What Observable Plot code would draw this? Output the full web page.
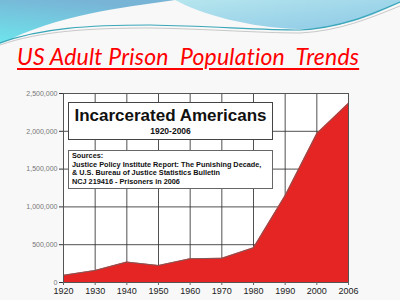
<!DOCTYPE html>
<html>
<head>
<meta charset="utf-8">
<script src="https://cdn.jsdelivr.net/npm/d3@7"></script>
<script src="https://cdn.jsdelivr.net/npm/@observablehq/plot@0.6"></script>
<style>
  html, body { margin:0; padding:0; }
  body { width:400px; height:300px; background:#f8f8f8; position:relative; overflow:hidden; font-family:"Liberation Sans", Arial, sans-serif; }
  #wave { position:absolute; left:0; top:0; }
  #title { position:absolute; left:17px; top:42px; font-family:Lato, "Open Sans", sans-serif; font-style:italic; font-size:23px; color:#ff0000; white-space:pre; text-decoration:underline; text-decoration-thickness:2px; text-underline-offset:3px; letter-spacing:0.2px; }
  #chart { position:absolute; left:0; top:80px; }
  .box { position:absolute; background:#fff; border:1.4px solid #444; box-sizing:border-box; color:#111; font-weight:bold; }
  #box1 { left:68px; top:102px; width:205px; height:38px; text-align:center; }
  #box1 .t1 { font-size:17px; line-height:17px; margin-top:4px; }
  #box1 .t2 { font-size:8.5px; line-height:10px; margin-top:2px; }
  #box2 { left:68px; top:150px; width:205px; height:39px; font-size:7.3px; line-height:8.6px; padding:1px 0 0 3px; border-color:#666; border-width:1px; }
</style>
</head>
<body>
<svg id="wave" width="400" height="50">
  <defs>
    <linearGradient id="g1" x1="0" y1="1" x2="0.4" y2="0">
      <stop offset="0" stop-color="#6ee6ec"/>
      <stop offset="1" stop-color="#78b4d6"/>
    </linearGradient>
    <linearGradient id="g2" x1="0" y1="0" x2="1" y2="1">
      <stop offset="0" stop-color="#b6e6ee"/>
      <stop offset="1" stop-color="#8cc8e6"/>
    </linearGradient>
  </defs>
  <path d="M0,0 L175,0 C120,8 60,14 0,44 Z" fill="url(#g1)"/>
  <path d="M175,0 L400,0 L400,2 C370,18 340,28 300,29 C250,28 200,14 175,0 Z" fill="url(#g2)"/>
  <path d="M0,43 C40,28 90,25 150,25 C210,26 260,30 300,30 C340,28 370,15 400,2" fill="none" stroke="#3aa6b8" stroke-width="1.2"/>
  <path d="M0,45 C40,31 90,28 150,28 C210,29 260,33 300,33 C340,31 370,18 400,6" fill="none" stroke="#bbbbbb" stroke-width="0.8"/>
</svg>
<div id="title">US Adult Prison  Population  Trends</div>
<div id="chart"></div>
<div class="box" id="box1"><div class="t1">Incarcerated Americans</div><div class="t2">1920-2006</div></div>
<div class="box" id="box2">Sources:<br>Justice Policy Institute Report: The Punishing Decade,<br>&amp; U.S. Bureau of Justice Statistics Bulletin<br>NCJ 219416 - Prisoners in 2006</div>
<script>
const years = ["1920","1930","1940","1950","1960","1970","1980","1990","2000","2006"];
const prisoners = [95000, 160000, 270000, 225000, 315000, 320000, 460000, 1150000, 1970000, 2370000];
const yTicks = [0, 500000, 1000000, 1500000, 2000000, 2500000];

const data = years.map((y, i) => ({i, year: y, value: prisoners[i]}));
const idx = years.map((_, i) => i);

const chart = Plot.plot({
  width: 360, height: 220,
  marginLeft: 63, marginRight: 12, marginTop: 13, marginBottom: 18,
  style: {background: "transparent", fontFamily: "Liberation Sans, Arial, sans-serif"},
  x: {domain: [0, years.length - 1], label: null},
  y: {domain: [0, 2500000], label: null},
  marks: [
    Plot.rect([0], {x1: 0, x2: years.length - 1, y1: 0, y2: 2500000, fill: "white"}),
    Plot.gridX(idx, {x: d => d, stroke: "#333", strokeOpacity: 0.85, strokeWidth: 1}),
    Plot.gridY(yTicks, {y: d => d, stroke: "#333", strokeOpacity: 0.85, strokeWidth: 1}),
    Plot.areaY(data, {x: "i", y: "value", fill: "#e52523"}),
    Plot.lineY(data, {x: "i", y: "value", stroke: "#666", strokeWidth: 0.8}),
    Plot.frame({stroke: "#555", strokeWidth: 1}),
    Plot.axisY(yTicks, {tickFormat: d3.format(","), fontSize: 7, fill: "#777", tickSize: 4, tickPadding: 2, stroke: "#333"}),
    Plot.axisX(idx, {tickFormat: i => years[i], fontSize: 9, fill: "#222", tickSize: 3, tickPadding: 2, stroke: "#666"})
  ]
});
document.getElementById("chart").appendChild(chart);
</script>
</body>
</html>
